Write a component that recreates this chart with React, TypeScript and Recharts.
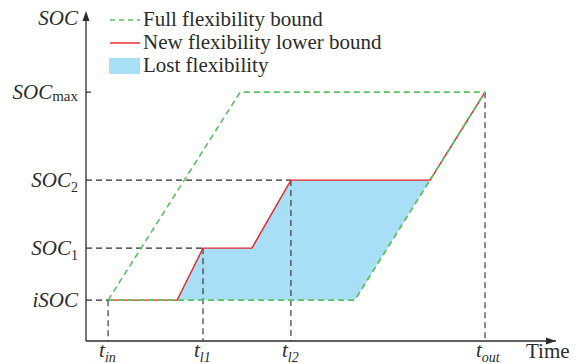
import React from 'react';
import {
  ComposedChart,
  Line,
  Area,
  XAxis,
  YAxis,
  ReferenceLine,
  ReferenceDot,
} from 'recharts';

// tick positions (time) and SOC levels
const timeTicks = [4.7, 24.9, 43.6, 84.9];
const timeSubs = ['in', 'l1', 'l2', 'out'];
const socTicks = [12.5, 28.4, 49.2, 76.1];
const socNames = ['iSOC', 'SOC1', 'SOC2', 'SOCmax'];

// full flexibility bound (upper + lower)
const fullUpperT = [4.7, 32.8, 84.9];
const fullUpperSoc = [12.5, 76.1, 76.1];
const fullLowerT = [4.7, 57.2, 84.9];
const fullLowerSoc = [12.5, 12.5, 76.1];

// new flexibility lower bound
const newLowerT = [4.7, 19.4, 24.9, 35.3, 43.6, 73.2, 84.9];
const newLowerSoc = [12.5, 12.5, 28.4, 28.4, 49.2, 49.2, 76.1];

// lost flexibility band
const lostT = [19.4, 24.9, 35.3, 43.6, 57.2, 73.2];
const lostLow = [12.5, 12.5, 12.5, 12.5, 12.5, 49.2];
const lostHigh = [12.5, 28.4, 28.4, 49.2, 49.2, 49.2];

const GREEN = '#5cbf62';
const RED = '#ec2227';
const BLUE = '#a9dff6';
const INK = '#2b2b2b';
const FONT = '"Liberation Serif", "DejaVu Serif", serif';

const toPts = (ts: number[], vs: number[]) => ts.map((t, i) => ({ t, soc: vs[i] }));
const upperData = toPts(fullUpperT, fullUpperSoc);
const lowerData = toPts(fullLowerT, fullLowerSoc);
const redData = toPts(newLowerT, newLowerSoc);
const lostData = lostT.map((t, i) => ({ t, range: [lostLow[i], lostHigh[i]] }));

// guide segments: horizontal from the y axis to the point, vertical down to x axis
const hGuides = [0, 1, 2].map((i) => ({ y: socTicks[i], x: timeTicks[i] }));
const vGuides = [0, 1, 2, 3].map((i) => ({ x: timeTicks[i], y: socTicks[i] }));

function SocTick(props: any) {
  const { x, y, payload } = props;
  const name: string = socNames[socTicks.indexOf(payload.value)] ?? '';
  const tx = x - 8;
  let body: React.ReactNode;
  if (name === 'iSOC') {
    body = <tspan fontStyle="italic">iSOC</tspan>;
  } else {
    const sub = name.slice(3);
    const isMax = sub === 'max';
    body = (
      <>
        <tspan fontStyle="italic">SOC</tspan>
        <tspan fontSize={isMax ? 15 : 14} dy={isMax ? 2 : 5}>{sub}</tspan>
      </>
    );
  }
  return (
    <g>
      {name === 'SOCmax' && <line x1={x} x2={x + 5} y1={y} y2={y} stroke={INK} strokeWidth={1.2} />}
      <text x={tx} y={y + 7} textAnchor="end" fontFamily={FONT} fontSize={21} fill={INK}>
        {body}
      </text>
    </g>
  );
}

function TimeTick(props: any) {
  const { x, y, payload } = props;
  const sub = timeSubs[timeTicks.indexOf(payload.value)] ?? '';
  return (
    <text x={x - 9} y={y + 16} fontFamily={FONT} fontSize={21} fill={INK} fontStyle="italic">
      <tspan>t</tspan>
      <tspan fontSize={14} dy={5}>{sub}</tspan>
    </text>
  );
}

const ArrowUp = (p: any) => (
  <path d={`M${p.cx},${p.cy - 3} L${p.cx - 3.5},${p.cy + 7} L${p.cx + 3.5},${p.cy + 7} Z`} fill={INK} />
);
const ArrowRight = (p: any) => (
  <path d={`M${p.cx},${p.cy} L${p.cx - 10},${p.cy - 3.5} L${p.cx - 10},${p.cy + 3.5} Z`} fill={INK} />
);

function LegendBox() {
  const row = { display: 'flex', alignItems: 'center', height: 23 } as React.CSSProperties;
  return (
    <div
      style={{
        position: 'absolute',
        left: 109,
        top: 8,
        fontFamily: FONT,
        fontSize: 21,
        color: INK,
        lineHeight: '23px',
      }}
    >
      <div style={row}>
        <svg width={34} height={10}>
          <line x1={1} x2={31} y1={5} y2={5} stroke={GREEN} strokeWidth={1.6} strokeDasharray="5 4" />
        </svg>
        <span>Full flexibility bound</span>
      </div>
      <div style={row}>
        <svg width={34} height={10}>
          <line x1={1} x2={31} y1={5} y2={5} stroke={RED} strokeWidth={1.4} />
        </svg>
        <span>New flexibility lower bound</span>
      </div>
      <div style={row}>
        <svg width={34} height={18}>
          <rect x={0} y={1} width={31} height={16} fill={BLUE} />
        </svg>
        <span>Lost flexibility</span>
      </div>
    </div>
  );
}

export default function App() {
  return (
    <div style={{ position: 'absolute', left: 0, top: 0, width: 587, height: 364, background: '#fff' }}>
      <ComposedChart width={587} height={364} margin={{ top: 14, right: 31, bottom: 0, left: 0 }}>
        <XAxis
          dataKey="t"
          type="number"
          domain={[0, 100]}
          ticks={timeTicks}
          interval={0}
          allowDataOverflow
          height={23}
          tickSize={0}
          tickMargin={0}
          tickLine={false}
          axisLine={{ stroke: INK, strokeWidth: 1.3 }}
          tick={<TimeTick />}
          label={{
            content: (p: any) => (
              <text
                x={p.viewBox.x + p.viewBox.width - 30}
                y={358}
                fontFamily={FONT}
                fontSize={21}
                fill={INK}
              >
                Time
              </text>
            ),
          }}
        />
        <YAxis
          type="number"
          domain={[0, 100]}
          ticks={socTicks}
          interval={0}
          allowDataOverflow
          width={86}
          tickSize={0}
          tickMargin={0}
          tickLine={false}
          axisLine={{ stroke: INK, strokeWidth: 1.3 }}
          tick={<SocTick />}
          label={{
            content: (p: any) => (
              <text
                x={p.viewBox.x + p.viewBox.width - 8}
                y={p.viewBox.y + 11}
                textAnchor="end"
                fontFamily={FONT}
                fontSize={21}
                fontStyle="italic"
                fill={INK}
              >
                SOC
              </text>
            ),
          }}
        />
        <Area
          data={lostData}
          dataKey="range"
          type="linear"
          stroke="none"
          fill={BLUE}
          fillOpacity={1}
          isAnimationActive={false}
        />
        {hGuides.map((g, i) => (
          <ReferenceLine
            key={'h' + i}
            segment={[{ x: 0, y: g.y }, { x: g.x, y: g.y }]}
            stroke={INK}
            strokeDasharray="6 4"
            strokeWidth={1.1}
          />
        ))}
        {vGuides.map((g, i) => (
          <ReferenceLine
            key={'v' + i}
            segment={[{ x: g.x, y: g.y }, { x: g.x, y: 0 }]}
            stroke={INK}
            strokeDasharray="6 4"
            strokeWidth={1.1}
          />
        ))}
        <Line
          data={redData}
          dataKey="soc"
          type="linear"
          stroke={RED}
          strokeWidth={1.4}
          dot={false}
          activeDot={false}
          isAnimationActive={false}
        />
        <Line
          data={upperData}
          dataKey="soc"
          type="linear"
          stroke={GREEN}
          strokeWidth={1.6}
          strokeDasharray="6 4"
          dot={false}
          activeDot={false}
          isAnimationActive={false}
        />
        <Line
          data={lowerData}
          dataKey="soc"
          type="linear"
          stroke={GREEN}
          strokeWidth={1.8}
          strokeDasharray="6 4"
          dot={false}
          activeDot={false}
          isAnimationActive={false}
        />
        <ReferenceDot x={0} y={100} r={0} ifOverflow="visible" shape={ArrowUp} />
        <ReferenceDot x={100} y={0} r={0} ifOverflow="visible" shape={ArrowRight} />
      </ComposedChart>
      <LegendBox />
    </div>
  );
}
